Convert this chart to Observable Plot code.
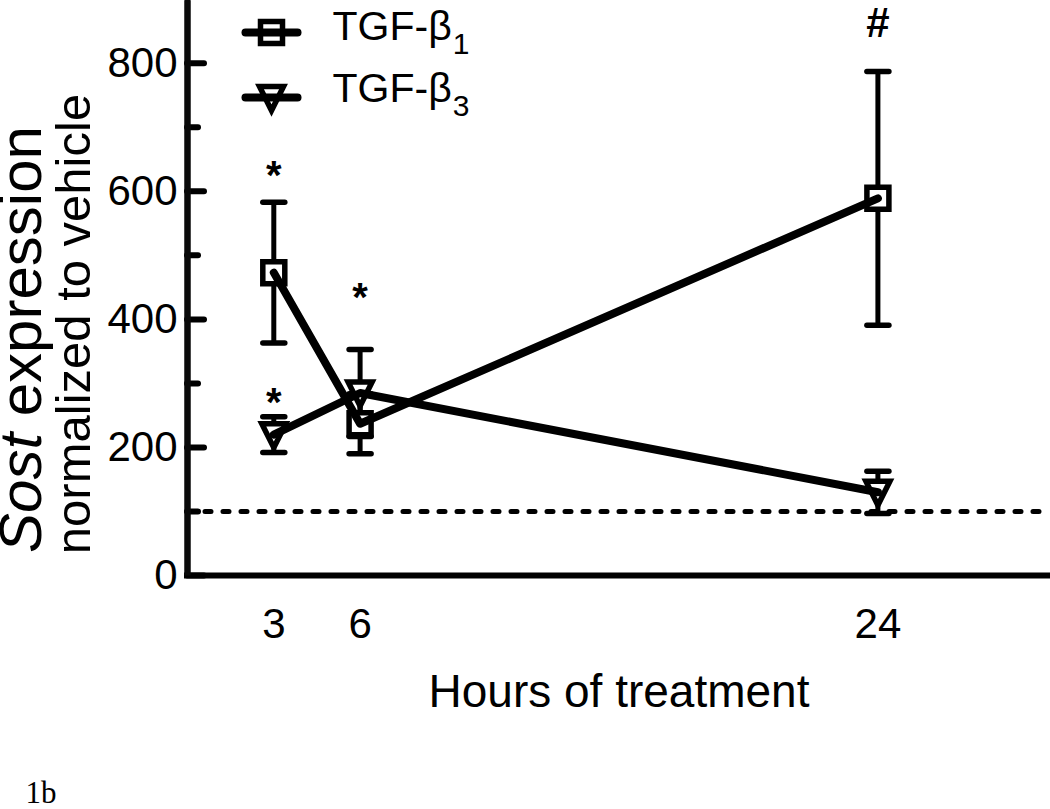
<!DOCTYPE html>
<html><head><meta charset="utf-8">
<script src="https://cdn.jsdelivr.net/npm/d3@7"></script>
<script src="https://cdn.jsdelivr.net/npm/@observablehq/plot@0.6"></script>
<style>body{margin:0;background:#fff}</style>
</head><body><div id="chart"></div>
<script>
// ---- data ----
const hours = [3, 6, 24];
const tgfb1Mean = [473, 237, 589];
const tgfb1Err = [110, 47, 198];
const tgfb3Mean = [220, 285, 130];
const tgfb3Err = [28, 68, 33];
const seriesNames = ["TGF-β1", "TGF-β3"];
const xTicks = [3, 6, 24];
const yTicks = [0, 200, 400, 600, 800];
const yMinorTicks = [100, 300, 500, 700];
const vehicleLevel = [100];
const starHours = [3, 3, 6];
const starValues = [640, 284, 448];
const hashHours = [24];
const hashValues = [866];
const xTitle = "Hours of treatment";
const yTitleItalic = "Sost";
const yTitleRest = "expression";
const yTitle2 = "normalized to vehicle";
const panelLabel = "1b";

// ---- tables ----
const b1 = hours.map((h, i) => ({hour: h, mean: tgfb1Mean[i], err: tgfb1Err[i]}));
const b3 = hours.map((h, i) => ({hour: h, mean: tgfb3Mean[i], err: tgfb3Err[i]}));
const stars = starHours.map((h, i) => ({hour: h, value: starValues[i], label: "*"}));
const hashes = hashHours.map((h, i) => ({hour: h, value: hashValues[i], label: "#"}));

// ---- symbols ----
const hline = len => ({draw(ctx) { ctx.moveTo(-len / 2, 0); ctx.lineTo(len / 2, 0); }});
const squareSym = {draw(ctx) { ctx.rect(-11, -11, 22, 22); }};
const triDown = {draw(ctx) { ctx.moveTo(-12, -11); ctx.lineTo(12, -11); ctx.lineTo(0, 13); ctx.closePath(); }};

const font = "'Liberation Sans', Arial, Helvetica, sans-serif";
const measureCtx = document.createElement("canvas").getContext("2d");
function textWidth(str, size, style = "normal") {
  measureCtx.font = `${style} ${size}px ${font}`;
  return measureCtx.measureText(str).width;
}

const yDomain = [0, 898];
const xDomain = [0, 30];
const ink = "#0a0a0a";

function errorMarks(data) {
  return [
    Plot.ruleX(data, {x: "hour", y1: d => d.mean - d.err, y2: d => d.mean + d.err, strokeWidth: 5, stroke: "black"}),
    Plot.dot(data, {x: "hour", y: d => d.mean + d.err, symbol: hline(22), stroke: "black", fill: "none", strokeWidth: 5.5, strokeLinecap: "round"}),
    Plot.dot(data, {x: "hour", y: d => d.mean - d.err, symbol: hline(22), stroke: "black", fill: "none", strokeWidth: 5.5, strokeLinecap: "round"})
  ];
}

// legend
const legendMarkerDy = [32, 97];
const legendTextDy = [39, 101];
const legendFont = 41;
const legendSymbols = [squareSym, triDown];
const legendMarks = [];
seriesNames.forEach((name, i) => {
  const base = name.slice(0, -1);
  const sub = name.slice(-1);
  const w = textWidth(base, legendFont);
  legendMarks.push(
    Plot.dot([name], {frameAnchor: "top-left", dx: 84, dy: legendMarkerDy[i], symbol: legendSymbols[i], fill: "white", stroke: "black", strokeWidth: 5.5}),
    Plot.dot([name], {frameAnchor: "top-left", dx: 84, dy: legendMarkerDy[i], symbol: hline(52), fill: "none", stroke: "black", strokeWidth: 8, strokeLinecap: "round"}),
    Plot.text([base], {frameAnchor: "top-left", dx: 145, dy: legendTextDy[i], text: d => d, textAnchor: "start", lineAnchor: "bottom", fontSize: legendFont, fill: "black"}),
    Plot.text([sub], {frameAnchor: "top-left", dx: 145 + w + 1, dy: legendTextDy[i] + 14, text: d => d, textAnchor: "start", lineAnchor: "bottom", fontSize: 30, fill: "black"})
  );
});

const y1Font = 60;
const y1StartDy = 265;
const italicW = textWidth(yTitleItalic + " ", y1Font, "italic");

const chart = Plot.plot({
  width: 1050,
  height: 809,
  marginLeft: 187,
  marginRight: 0,
  marginTop: 0,
  marginBottom: 234,
  style: {fontFamily: font, background: "white", color: "black"},
  x: {domain: xDomain},
  y: {domain: yDomain},
  marks: [
    Plot.ruleY(vehicleLevel, {y: d => d, strokeWidth: 5, strokeDasharray: "6,12", strokeLinecap: "round", stroke: "black"}),
    ...errorMarks(b1),
    ...errorMarks(b3),
    Plot.dot(b1, {x: "hour", y: "mean", symbol: squareSym, fill: "white", stroke: "black", strokeWidth: 5.5}),
    Plot.dot(b3, {x: "hour", y: "mean", symbol: triDown, fill: "white", stroke: "black", strokeWidth: 5.5}),
    Plot.line(b1, {x: "hour", y: "mean", stroke: "black", strokeWidth: 8}),
    Plot.line(b3, {x: "hour", y: "mean", stroke: "black", strokeWidth: 8}),
    Plot.text(stars, {x: "hour", y: "value", text: "label", fontSize: 40, fontWeight: "bold", dy: 10, fill: "black"}),
    Plot.text(hashes, {x: "hour", y: "value", text: "label", fontSize: 42, fontWeight: "bold", dy: 3, fill: "black"}),
    // axes
    Plot.ruleY([yDomain[0]], {y: d => d, strokeWidth: 6, stroke: "black", strokeLinecap: "square"}),
    Plot.tickY(yTicks, {y: d => d, insetRight: 846, strokeWidth: 6, stroke: "black", strokeLinecap: "round"}),
    Plot.tickY(yMinorTicks, {y: d => d, insetRight: 852, strokeWidth: 6, stroke: "black", strokeLinecap: "round"}),
    Plot.axisY({ticks: yTicks, tickSize: 0, tickPadding: 10, fontSize: 42, label: null, tickFormat: d => String(d)}),
    Plot.axisX({ticks: xTicks, tickSize: 0, tickPadding: 33, fontSize: 42, label: null, tickFormat: d => String(d)}),
    Plot.text([xTitle], {frameAnchor: "bottom", dy: 131, lineAnchor: "bottom", textAnchor: "middle", text: d => d, fontSize: 46, fill: "black"}),
    Plot.text([yTitleItalic], {frameAnchor: "left", rotate: -90, dx: -166, dy: y1StartDy, textAnchor: "start", text: d => d, fontSize: y1Font, fontStyle: "italic", fill: "black"}),
    Plot.text([yTitleRest], {frameAnchor: "left", rotate: -90, dx: -166, dy: y1StartDy - italicW, textAnchor: "start", text: d => d, fontSize: y1Font, fill: "black"}),
    Plot.text([yTitle2], {frameAnchor: "left", rotate: -90, dx: -113, dy: 36, textAnchor: "middle", text: d => d, fontSize: 49, fill: "black"}),
    Plot.text([panelLabel], {frameAnchor: "bottom-left", dx: -162, dy: 227, lineAnchor: "bottom", textAnchor: "start", text: d => d, fontSize: 31, fontFamily: "'Liberation Serif', 'Times New Roman', serif", fill: "black"}),
    ...legendMarks,
    Plot.ruleX([xDomain[0]], {x: d => d, stroke: ink, strokeWidth: 6}),
    Plot.link([xDomain[0]], {x1: d => d, x2: d => d, y1: () => yDomain[0], y2: () => yDomain[1], stroke: ink, strokeWidth: 6})
  ]
});

document.getElementById("chart").appendChild(chart);

// make sure the y-axis line sits on top of everything else
chart.querySelectorAll("line, path").forEach(el => {
  const x1 = el.getAttribute("x1"), x2 = el.getAttribute("x2");
  if (x1 !== null && x1 === x2 && Math.abs(+x1 - 187) < 1) chart.appendChild(el.parentNode);
});
</script>
</body></html>
